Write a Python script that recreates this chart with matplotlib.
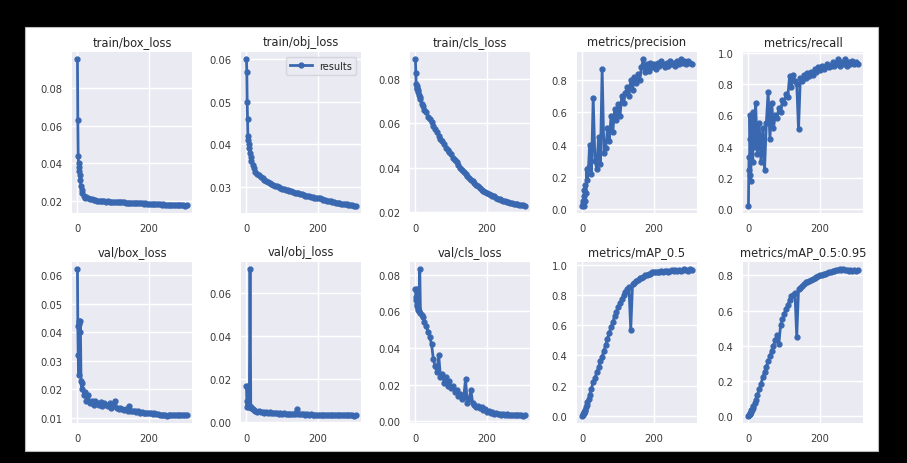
import matplotlib
matplotlib.use("Agg")
import matplotlib.pyplot as plt
from matplotlib.patches import Rectangle
from matplotlib.ticker import MultipleLocator

epochs = [0, 1, 2, 3, 4, 5, 6, 8, 10, 12, 14, 17, 20] + list(range(25, 310, 5))

titles = ["train/box_loss", "train/obj_loss", "train/cls_loss", "metrics/precision", "metrics/recall",
          "val/box_loss", "val/obj_loss", "val/cls_loss", "metrics/mAP_0.5", "metrics/mAP_0.5:0.95"]

train_box = [0.095, 0.063, 0.044, 0.040, 0.038, 0.036, 0.034, 0.031, 0.028, 0.026, 0.0245, 0.023, 0.022,
             0.0225, 0.0218, 0.0213, 0.0210, 0.0207, 0.0205, 0.0204, 0.0202, 0.0203, 0.0200,
             0.0201, 0.0199, 0.0200, 0.0198, 0.0197, 0.0198, 0.0196, 0.0195, 0.0196, 0.0194,
             0.0194, 0.0195, 0.0193, 0.0192, 0.0193, 0.0191, 0.0191, 0.0192, 0.0190, 0.0191,
             0.0189, 0.0190, 0.0188, 0.0189, 0.0187, 0.0188, 0.0186, 0.0187, 0.0185, 0.0186,
             0.0184, 0.0185, 0.0183, 0.0184, 0.0182, 0.0181, 0.0182, 0.0180, 0.0181, 0.0180,
             0.0179, 0.0180, 0.0178, 0.0179, 0.0178, 0.0177, 0.0178]

train_obj = [0.060, 0.057, 0.050, 0.046, 0.042, 0.041, 0.040, 0.039, 0.038, 0.037, 0.036, 0.035, 0.0345,
             0.0335, 0.0330, 0.0327, 0.0322, 0.0320, 0.0316, 0.0314, 0.0311, 0.0309, 0.0307,
             0.0304, 0.0302, 0.0301, 0.0298, 0.0297, 0.0295, 0.0294, 0.0292, 0.0291, 0.0289,
             0.0289, 0.0287, 0.0286, 0.0285, 0.0284, 0.0282, 0.0282, 0.0280, 0.0279, 0.0278,
             0.0277, 0.0276, 0.0276, 0.0274, 0.0273, 0.0272, 0.0272, 0.0270, 0.0269, 0.0268,
             0.0267, 0.0266, 0.0265, 0.0264, 0.0263, 0.0262, 0.0261, 0.0261, 0.0260, 0.0259,
             0.0258, 0.0258, 0.0257, 0.0256, 0.0256, 0.0255, 0.0255]

train_cls = [0.089, 0.083, 0.078, 0.077, 0.076, 0.0755, 0.075, 0.074, 0.073, 0.072, 0.071, 0.069, 0.068,
             0.066, 0.065, 0.063, 0.062, 0.0605, 0.059, 0.0575, 0.056, 0.0545, 0.053,
             0.052, 0.0505, 0.049, 0.048, 0.047, 0.046, 0.0445, 0.0435, 0.0425, 0.041,
             0.040, 0.039, 0.038, 0.037, 0.036, 0.0355, 0.0345, 0.034, 0.033, 0.032,
             0.0315, 0.031, 0.030, 0.0295, 0.029, 0.0285, 0.028, 0.0275, 0.027, 0.027,
             0.0265, 0.026, 0.0258, 0.0255, 0.025, 0.0248, 0.0245, 0.0243, 0.024, 0.0238,
             0.0237, 0.0235, 0.0235, 0.0232, 0.023, 0.023, 0.0228]

precision = [0.02, 0.03, 0.05, 0.02, 0.08, 0.12, 0.05, 0.15, 0.10, 0.25, 0.18, 0.26, 0.40,
             0.22, 0.69, 0.30, 0.25, 0.45, 0.28, 0.87, 0.35, 0.38, 0.50,
             0.42, 0.58, 0.48, 0.62, 0.55, 0.65, 0.58, 0.70, 0.66, 0.72,
             0.76, 0.70, 0.80, 0.74, 0.82, 0.78, 0.84, 0.80, 0.88, 0.93,
             0.85, 0.90, 0.86, 0.91, 0.88, 0.90, 0.87, 0.91, 0.89, 0.92,
             0.90, 0.88, 0.91, 0.89, 0.92, 0.90, 0.91, 0.89, 0.92, 0.90,
             0.93, 0.91, 0.92, 0.90, 0.92, 0.91, 0.90]

recall = [0.02, 0.25, 0.33, 0.22, 0.60, 0.45, 0.18, 0.35, 0.58, 0.30, 0.62, 0.40, 0.68,
          0.35, 0.55, 0.30, 0.52, 0.25, 0.55, 0.75, 0.45, 0.68, 0.52,
          0.60, 0.58, 0.65, 0.62, 0.70, 0.68, 0.74, 0.72, 0.85, 0.78,
          0.86, 0.82, 0.80, 0.51, 0.84, 0.82, 0.86, 0.84, 0.87, 0.85,
          0.88, 0.86, 0.90, 0.88, 0.91, 0.89, 0.92, 0.90, 0.91, 0.93,
          0.91, 0.92, 0.94, 0.92, 0.93, 0.96, 0.92, 0.94, 0.93, 0.96,
          0.92, 0.94, 0.93, 0.95, 0.93, 0.94, 0.93]

val_box = [0.062, 0.042, 0.032, 0.025, 0.044, 0.043, 0.040, 0.044, 0.023, 0.020, 0.022, 0.018, 0.019,
           0.016, 0.018, 0.015, 0.016, 0.0145, 0.016, 0.015, 0.0145, 0.0155, 0.014,
           0.015, 0.0145, 0.014, 0.015, 0.0135, 0.014, 0.016, 0.0135, 0.013, 0.0135,
           0.013, 0.0128, 0.013, 0.0125, 0.014, 0.0125, 0.0122, 0.0125, 0.012, 0.0122,
           0.0118, 0.012, 0.0118, 0.0118, 0.0115, 0.0117, 0.0115, 0.0113, 0.0115, 0.0112,
           0.0112, 0.011, 0.0111, 0.0108, 0.0108, 0.0107, 0.0108, 0.0108, 0.0108, 0.0109,
           0.011, 0.0109, 0.011, 0.011, 0.0111, 0.011, 0.0111]

val_obj = [0.017, 0.010, 0.007, 0.008, 0.017, 0.009, 0.008, 0.007, 0.071, 0.007, 0.0065, 0.006, 0.0058,
           0.0055, 0.005, 0.0052, 0.0048, 0.005, 0.0045, 0.0047, 0.0044, 0.0046, 0.0043,
           0.0045, 0.0042, 0.0044, 0.0041, 0.0043, 0.004, 0.0042, 0.0039, 0.0041, 0.0039,
           0.004, 0.0038, 0.0039, 0.006, 0.0038, 0.0039, 0.0037, 0.0038, 0.0036, 0.0037,
           0.0036, 0.0037, 0.0035, 0.0036, 0.0035, 0.0036, 0.0035, 0.0034, 0.0035, 0.0034,
           0.0035, 0.0034, 0.0034, 0.0033, 0.0034, 0.0033, 0.0034, 0.0033, 0.0033, 0.0032,
           0.0033, 0.0032, 0.0033, 0.0032, 0.0032, 0.0031, 0.0032]

val_cls = [0.072, 0.068, 0.066, 0.064, 0.072, 0.063, 0.062, 0.061, 0.060, 0.083, 0.059, 0.058, 0.057,
           0.054, 0.052, 0.049, 0.046, 0.042, 0.034, 0.030, 0.027, 0.036, 0.024,
           0.026, 0.021, 0.024, 0.019, 0.022, 0.018, 0.019, 0.016, 0.017, 0.014,
           0.015, 0.012, 0.013, 0.023, 0.010, 0.012, 0.017, 0.010, 0.009, 0.008,
           0.0085, 0.007, 0.0075, 0.006, 0.0065, 0.005, 0.0055, 0.0045, 0.005, 0.004,
           0.0042, 0.0038, 0.004, 0.0036, 0.0038, 0.0035, 0.0037, 0.0034, 0.0036, 0.0033,
           0.0035, 0.0032, 0.0034, 0.0031, 0.0033, 0.003, 0.0031]

map50 = [0.00, 0.005, 0.01, 0.015, 0.02, 0.025, 0.03, 0.04, 0.06, 0.07, 0.09, 0.11, 0.14,
         0.18, 0.22, 0.25, 0.29, 0.32, 0.36, 0.39, 0.43, 0.47, 0.51,
         0.55, 0.59, 0.62, 0.66, 0.69, 0.72, 0.75, 0.77, 0.80, 0.82,
         0.84, 0.85, 0.57, 0.87, 0.88, 0.89, 0.90, 0.91, 0.91, 0.92,
         0.93, 0.93, 0.94, 0.94, 0.95, 0.95, 0.95, 0.955, 0.95, 0.96,
         0.955, 0.96, 0.96, 0.955, 0.96, 0.965, 0.96, 0.965, 0.96, 0.965,
         0.96, 0.965, 0.97, 0.965, 0.96, 0.97, 0.965]

map5095 = [0.00, 0.003, 0.005, 0.008, 0.01, 0.015, 0.02, 0.03, 0.035, 0.045, 0.055, 0.07, 0.09,
           0.12, 0.15, 0.18, 0.22, 0.25, 0.28, 0.31, 0.34, 0.37, 0.40,
           0.43, 0.46, 0.41, 0.52, 0.55, 0.58, 0.61, 0.63, 0.66, 0.68,
           0.69, 0.70, 0.45, 0.72, 0.73, 0.74, 0.75, 0.76, 0.765, 0.77,
           0.775, 0.78, 0.785, 0.79, 0.795, 0.80, 0.805, 0.81, 0.81, 0.815,
           0.82, 0.82, 0.825, 0.825, 0.83, 0.83, 0.835, 0.83, 0.835, 0.83,
           0.83, 0.825, 0.83, 0.825, 0.83, 0.825, 0.83]

series = [train_box, train_obj, train_cls, precision, recall,
          val_box, val_obj, val_cls, map50, map5095]
ytick_steps = [0.02, 0.01, 0.02, 0.2, 0.2, 0.01, 0.02, 0.02, 0.2, 0.2]

W, H = 907, 464
fig = plt.figure(figsize=(W / 100, H / 100), dpi=100)
fig.patch.set_facecolor("black")

# white sheet behind the panels
bg = fig.add_axes([0, 0, 1, 1], zorder=-10)
bg.set_xlim(0, W)
bg.set_ylim(H, 0)
bg.axis("off")
bg.add_patch(Rectangle((25, 28), 878 - 25, 452 - 28, facecolor="white",
                       edgecolor="#bbbbbb", linewidth=0.8))

col_left = [72, 241, 410, 577, 743]
ax_w = 120
row_top = [53, 263]
ax_h = 161
line_color = "#3a68b0"

for i, (title, vals) in enumerate(zip(titles, series)):
    r, c = divmod(i, 5)
    left = col_left[c]
    top = row_top[r]
    ax = fig.add_axes([left / W, (H - top - ax_h) / H, ax_w / W, ax_h / H])
    ax.set_facecolor("#EAEAF2")
    ax.plot(epochs, vals, marker=".", color=line_color, linewidth=2.0,
            markersize=7, label="results")
    ax.grid(True, color="white", linewidth=1.0)
    ax.set_axisbelow(True)
    for s in ax.spines.values():
        s.set_visible(False)
    ax.tick_params(length=0, labelsize=7.2, colors="#3a3a3a", pad=7)
    ax.xaxis.set_major_locator(MultipleLocator(200))
    ax.yaxis.set_major_locator(MultipleLocator(ytick_steps[i]))
    ax.set_title(title, fontsize=8.3, color="#262626", pad=5)
    if i == 1:
        leg = ax.legend(loc="upper right", fontsize=7, frameon=True, facecolor="#EAEAF2",
                        edgecolor="#d0d0d8", handlelength=2.2, borderpad=0.4)
        for t in leg.get_texts():
            t.set_color("#262626")

fig.savefig("out.png", dpi=100, facecolor=fig.get_facecolor())
